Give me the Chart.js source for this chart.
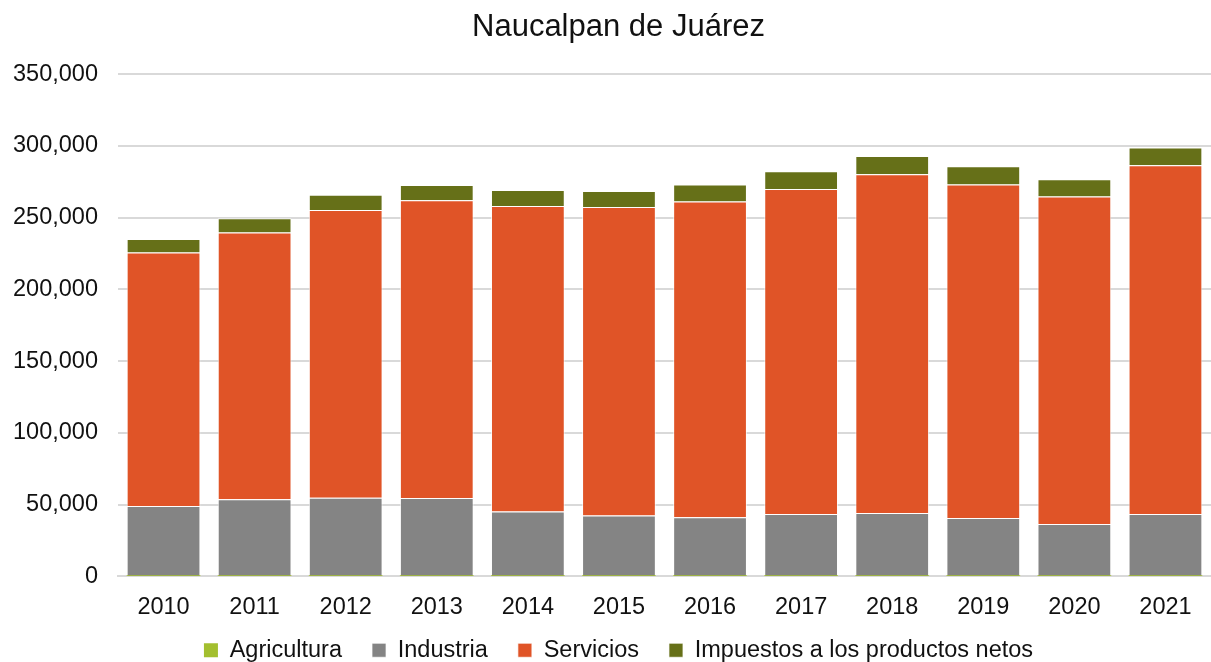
<!DOCTYPE html>
<html>
<head>
<meta charset="utf-8">
<script src="https://cdn.jsdelivr.net/npm/chart.js@4.4.1/dist/chart.umd.min.js"></script>
<style>
html,body{margin:0;padding:0;background:#fff;}
#wrap{width:1211px;height:662px;position:relative;}
</style>
</head>
<body>
<div id="wrap"><canvas id="c" width="1211" height="662"></canvas></div>
<script>
const years = ["2010","2011","2012","2013","2014","2015","2016","2017","2018","2019","2020","2021"];
const agricultura = [200,200,200,200,200,200,200,200,200,200,200,200];
const industria = [48800,53500,54500,54300,44900,42100,40900,43300,44000,40500,36300,43300];
const servicios = [176700,186000,200700,207700,213100,215200,220200,226400,236000,232500,228300,243000];
const impuestos = [9400,9900,10500,10500,11000,11000,11900,12400,12800,12600,11900,12400];
const chartTitle = "Naucalpan de Juárez";

const FONT = "'Liberation Sans', Arial, sans-serif";
Chart.defaults.font.family = FONT;
Chart.defaults.color = "#222";

// let tick labels overflow their (tightened) scale boxes
const noLabelClip = (s) => { s._computeLabelArea = () => undefined; };

new Chart(document.getElementById('c'), {
  type: 'bar',
  data: {
    labels: years,
    datasets: [
      {label:'Agricultura', data: agricultura, backgroundColor:'#a3bf2f', borderColor:'#ffffff', borderWidth:0},
      {label:'Industria', data: industria, backgroundColor:'#848484', borderColor:'rgba(255,255,255,0.7)', borderWidth:1},
      {label:'Servicios', data: servicios, backgroundColor:'#e05427', borderColor:'rgba(255,255,255,0.7)', borderWidth:1},
      {label:'Impuestos a los productos netos', data: impuestos, backgroundColor:'#667018', borderColor:'rgba(255,255,255,0.7)', borderWidth:1}
    ]
  },
  options: {
    responsive: false,
    animation: false,
    devicePixelRatio: 1,
    layout: {padding: {left: 26, right: 0, top: 4, bottom: -10}},
    datasets: {bar: {barPercentage: 0.81, categoryPercentage: 1.0}},
    plugins: {
      title: {display: true, text: chartTitle, color:'#111', font:{size:31, family: FONT, weight:'normal'}, padding:{top:5, bottom:28}},
      legend: {position:'bottom', labels:{boxWidth:14, boxHeight:14, color:'#111', font:{size:23.5, family: FONT}, padding: 30}},
      tooltip: {enabled:false}
    },
    scales: {
      x: {stacked: true, grid: {display:false}, border:{display:true, color:'#d9d9d9', width:2},
          ticks: {color:'#111', font:{size:23.5, family: FONT}, padding: 9},
          afterFit: (s) => { s.height -= 22; noLabelClip(s); }},
      y: {stacked: true, min:0, max:350000, border:{display:false},
          grid: {color:'#d9d9d9', lineWidth:2, drawTicks:false},
          ticks: {stepSize:50000, color:'#111', font:{size:23.5, family: FONT}, padding: 20,
                  callback: v => v.toLocaleString('en-US')},
          afterFit: (s) => { s.width = 92; noLabelClip(s); }}
    }
  }
});
</script>
</body>
</html>
